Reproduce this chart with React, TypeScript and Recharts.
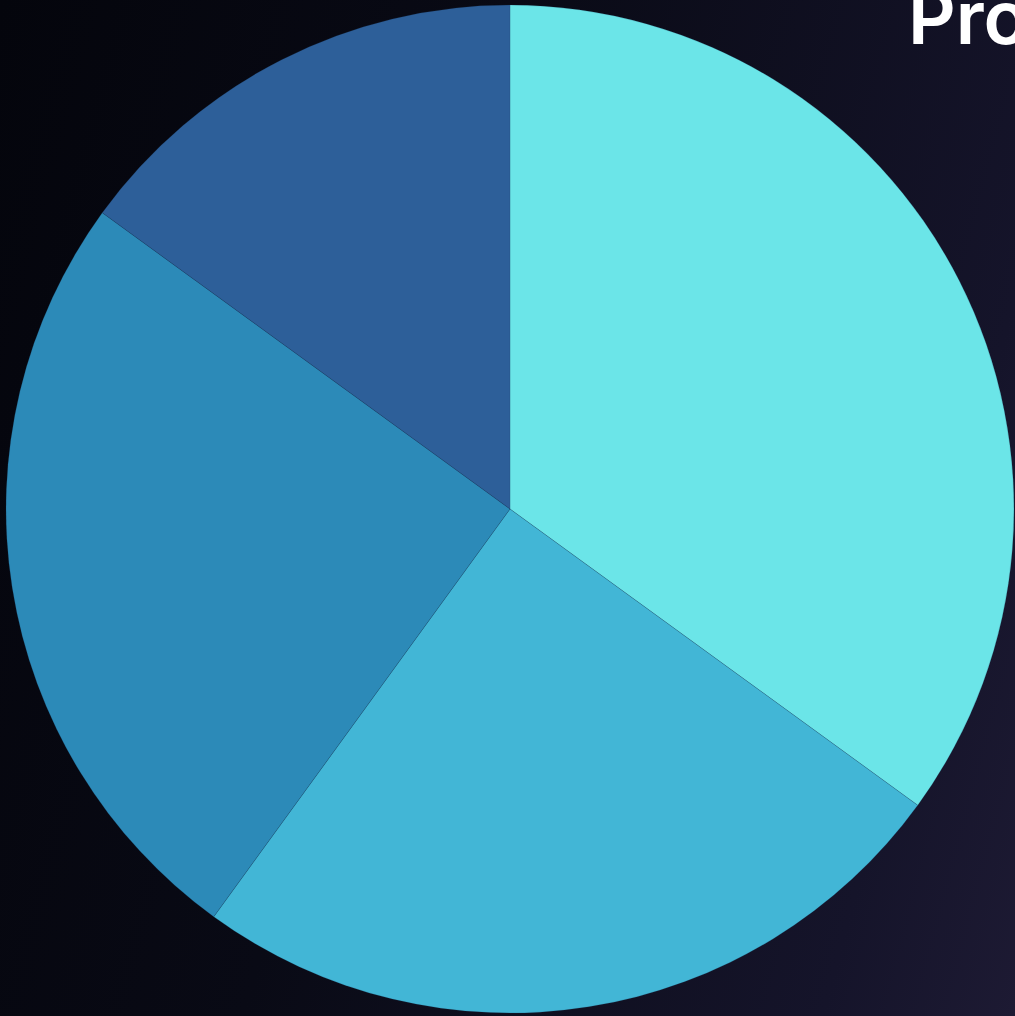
import { Cell, Pie, PieChart } from "recharts";

const categories = ["Segment A", "Segment B", "Segment C", "Segment D"];
const shares = [35, 25, 25, 15];
const colors = ["#6be5e8", "#42b6d6", "#2c8ab8", "#2d5f99"];

const data = categories.map((name, i) => ({ name, value: shares[i] }));

export default function App() {
  return (
    <div
      style={{
        position: "fixed",
        left: 0,
        top: 0,
        width: 1015,
        height: 1016,
        overflow: "hidden",
        background: "linear-gradient(105deg, #04050c 0%, #090a15 40%, #15142a 85%, #1d1a33 100%)"
      }}
    >
      <PieChart width={1015} height={1016} margin={{ top: 0, right: 0, bottom: 0, left: 0 }}>
        <Pie
          data={data}
          dataKey="value"
          nameKey="name"
          cx={510}
          cy={509}
          outerRadius={504}
          startAngle={90}
          endAngle={-270}
          stroke="rgba(30, 60, 95, 0.35)"
          strokeWidth={0.5}
          isAnimationActive={false}
        >
          {data.map((d, i) => (
            <Cell key={d.name} fill={colors[i]} />
          ))}
        </Pie>
      </PieChart>
      <div
        style={{
          position: "absolute",
          left: 908,
          top: -27,
          color: "#ffffff",
          fontFamily: "Inter, 'Noto Sans', sans-serif",
          fontWeight: 600,
          fontSize: 74,
          whiteSpace: "nowrap",
          lineHeight: 1.2
        }}
      >
        Product Share
      </div>
    </div>
  );
}
